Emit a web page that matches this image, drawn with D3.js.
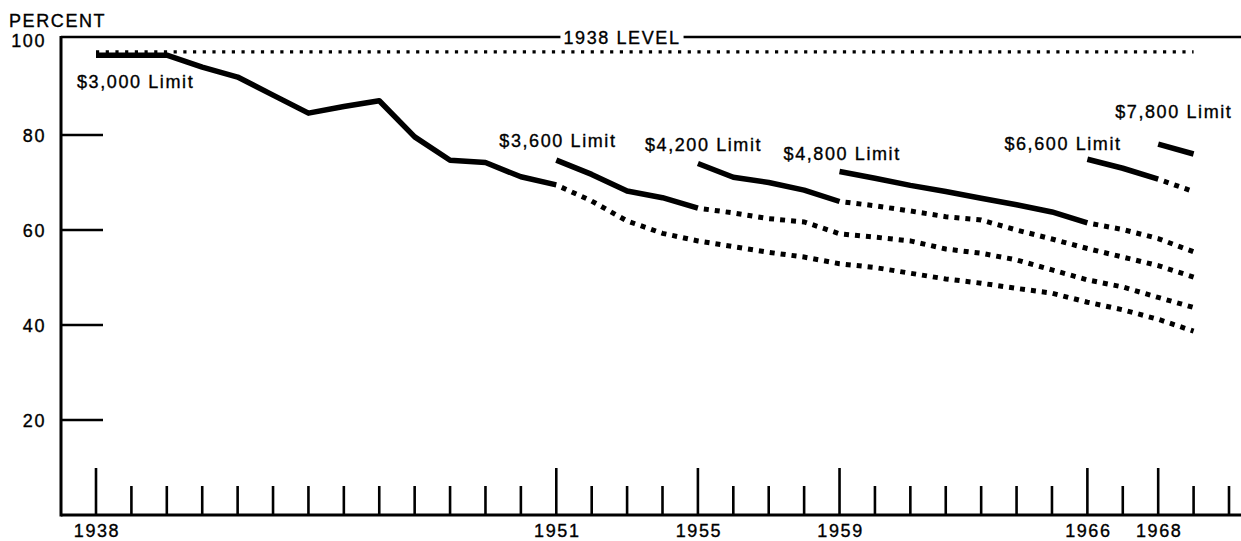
<!DOCTYPE html>
<html>
<head>
<meta charset="utf-8">
<script src="https://cdn.jsdelivr.net/npm/d3@7"></script>
<style>
body { margin:0; background:#fff; }
text { font-family: "Liberation Sans", Arial, sans-serif; font-size:18px; letter-spacing:1.6px; fill:#000; stroke:#000; stroke-width:0.35px; }
</style>
</head>
<body>
<div id="chart"></div>
<script>
'use strict';

// percent of earnings taxable
var limit3000Years = [1938,1939,1940,1941,1942,1943,1944,1945,1946,1947,1948,1949,1950,1951,1952,1953,1954,1955,1956,1957,1958,1959,1960,1961,1962,1963,1964,1965,1966,1967,1968,1969]
var limit3000 = [96.8,96.8,96.8,94.3,92.2,88.4,84.6,86.0,87.2,79.6,74.7,74.2,71.2,69.5,66.1,61.9,59.3,57.7,56.5,55.3,54.3,52.9,52.1,50.9,49.7,48.8,47.7,46.7,44.8,43.2,41.2,38.7]

var limit3600Years = [1951,1952,1953,1954,1955,1956,1957,1958,1959,1960,1961,1962,1963,1964,1965,1966,1967,1968,1969]
var limit3600 = [74.7,71.7,68.2,66.8,64.6,63.6,62.4,61.7,59.2,58.5,57.7,56.0,55.1,53.7,51.6,49.5,48.0,45.8,43.7]

var limit4200Years = [1955,1956,1957,1958,1959,1960,1961,1962,1963,1964,1965,1966,1967,1968,1969]
var limit4200 = [74.0,71.1,70.0,68.4,66.0,65.1,64.0,62.8,62.1,60.0,58.1,56.1,54.3,52.5,50.1]

var limit4800Years = [1959,1960,1961,1962,1963,1964,1965,1966,1967,1968,1969]
var limit4800 = [72.3,70.9,69.4,68.1,66.7,65.3,63.8,61.5,60.1,58.2,55.4]

var limit6600Years = [1966,1967,1968,1969]
var limit6600 = [74.9,73.0,70.7,68.1]

var limit7800Years = [1968,1969]
var limit7800 = [78.1,76.0]

// last year each limit was actually in force (solid), after that dotted
var limitNames = ["$3,000 Limit","$3,600 Limit","$4,200 Limit","$4,800 Limit","$6,600 Limit","$7,800 Limit"]
var limitEnds = [1951,1955,1959,1966,1968,1969]

var level1938 = 97.5
var level1938Years = [1938,1969]

var yTicks = [20,40,60,80]
var yLabels = [20,40,60,80,100]
var xLabelYears = [1938,1951,1955,1959,1966,1968]
var xTickYears = [1938,1939,1940,1941,1942,1943,1944,1945,1946,1947,1948,1949,1950,1951,1952,1953,1954,1955,1956,1957,1958,1959,1960,1961,1962,1963,1964,1965,1966,1967,1968,1969,1970]

var W = 1241, H = 541
var svg = d3.select("#chart").append("svg").attr("width",W).attr("height",H)

var x = d3.scaleLinear().domain([1938,1970]).range([96,1229])
var y = d3.scaleLinear().domain([0,100]).range([515,40])

var axisX = 61, topY = 37, botY = 515

// frame
svg.append("line").attr("x1",axisX).attr("x2",axisX).attr("y1",topY-1).attr("y2",botY+1.5)
	.attr("stroke","#000").attr("stroke-width",3)
svg.append("line").attr("x1",axisX).attr("x2",W).attr("y1",botY).attr("y2",botY)
	.attr("stroke","#000").attr("stroke-width",3)
svg.append("line").attr("x1",axisX).attr("x2",W).attr("y1",topY).attr("y2",topY)
	.attr("stroke","#000").attr("stroke-width",2.5)

var lvl = svg.append("text").text("1938 LEVEL").attr("x",622).attr("y",44).attr("text-anchor","middle")
var bb = lvl.node().getBBox()
svg.insert("rect","text").attr("x",bb.x-3).attr("y",topY-4).attr("width",bb.width+6).attr("height",8).attr("fill","#fff")

svg.append("text").text("PERCENT").attr("x",9).attr("y",27)

// y axis ticks & labels
svg.append("g").selectAll("line").data(yTicks).enter().append("line")
	.attr("x1",axisX).attr("x2",103)
	.attr("y1",function(d){return y(d)}).attr("y2",function(d){return y(d)})
	.attr("stroke","#000").attr("stroke-width",2.5)
svg.append("g").selectAll("text").data(yLabels).enter().append("text")
	.text(function(d){return d})
	.attr("x",46).attr("y",function(d){return y(d)+7})
	.attr("text-anchor","end")

// x ticks
svg.append("g").selectAll("line").data(xTickYears).enter().append("line")
	.attr("x1",function(d){return x(d)}).attr("x2",function(d){return x(d)})
	.attr("y1",function(d){return xLabelYears.indexOf(d)>-1 ? botY-47 : botY-29})
	.attr("y2",botY)
	.attr("stroke","#000").attr("stroke-width",2.6)
svg.append("g").selectAll("text").data(xLabelYears).enter().append("text")
	.text(function(d){return d})
	.attr("x",function(d){return x(d)+1}).attr("y",537)
	.attr("text-anchor","middle")

var line = d3.line().x(function(d){return x(d[0])}).y(function(d){return y(d[1])})

// 1938 level
svg.append("path").datum(level1938Years.map(function(yr){return [yr,level1938]}))
	.attr("d",line).attr("fill","none").attr("stroke","#000")
	.attr("stroke-width",3.2).attr("stroke-dasharray","3.2,6.5")

var allYears = [limit3000Years,limit3600Years,limit4200Years,limit4800Years,limit6600Years,limit7800Years]
var allValues = [limit3000,limit3600,limit4200,limit4800,limit6600,limit7800]

// where each label sits relative to the first point of its line
var labelOffsets = [[-19,33],[-57,-13],[-53,-13],[-56,-12],[-83,-9],[-43,-26]]

allValues.forEach(function(vals,i){
	var pts = vals.map(function(v,j){return [allYears[i][j],v]})
	var solid = pts.filter(function(p){return p[0]<=limitEnds[i]})
	var dotted = pts.filter(function(p){return p[0]>=limitEnds[i]})
	svg.append("path").datum(solid).attr("d",line).attr("fill","none")
		.attr("stroke","#000").attr("stroke-width",5.5).attr("stroke-linejoin","round")
	if(dotted.length>1){
		svg.append("path").datum(dotted).attr("d",line).attr("fill","none")
			.attr("stroke","#000").attr("stroke-width",5).attr("stroke-dasharray","5,6")
			.attr("stroke-dashoffset",-6)
	}
	svg.append("text").text(limitNames[i])
		.attr("x",x(pts[0][0])+labelOffsets[i][0])
		.attr("y",y(pts[0][1])+labelOffsets[i][1])
})
</script>
</body>
</html>
